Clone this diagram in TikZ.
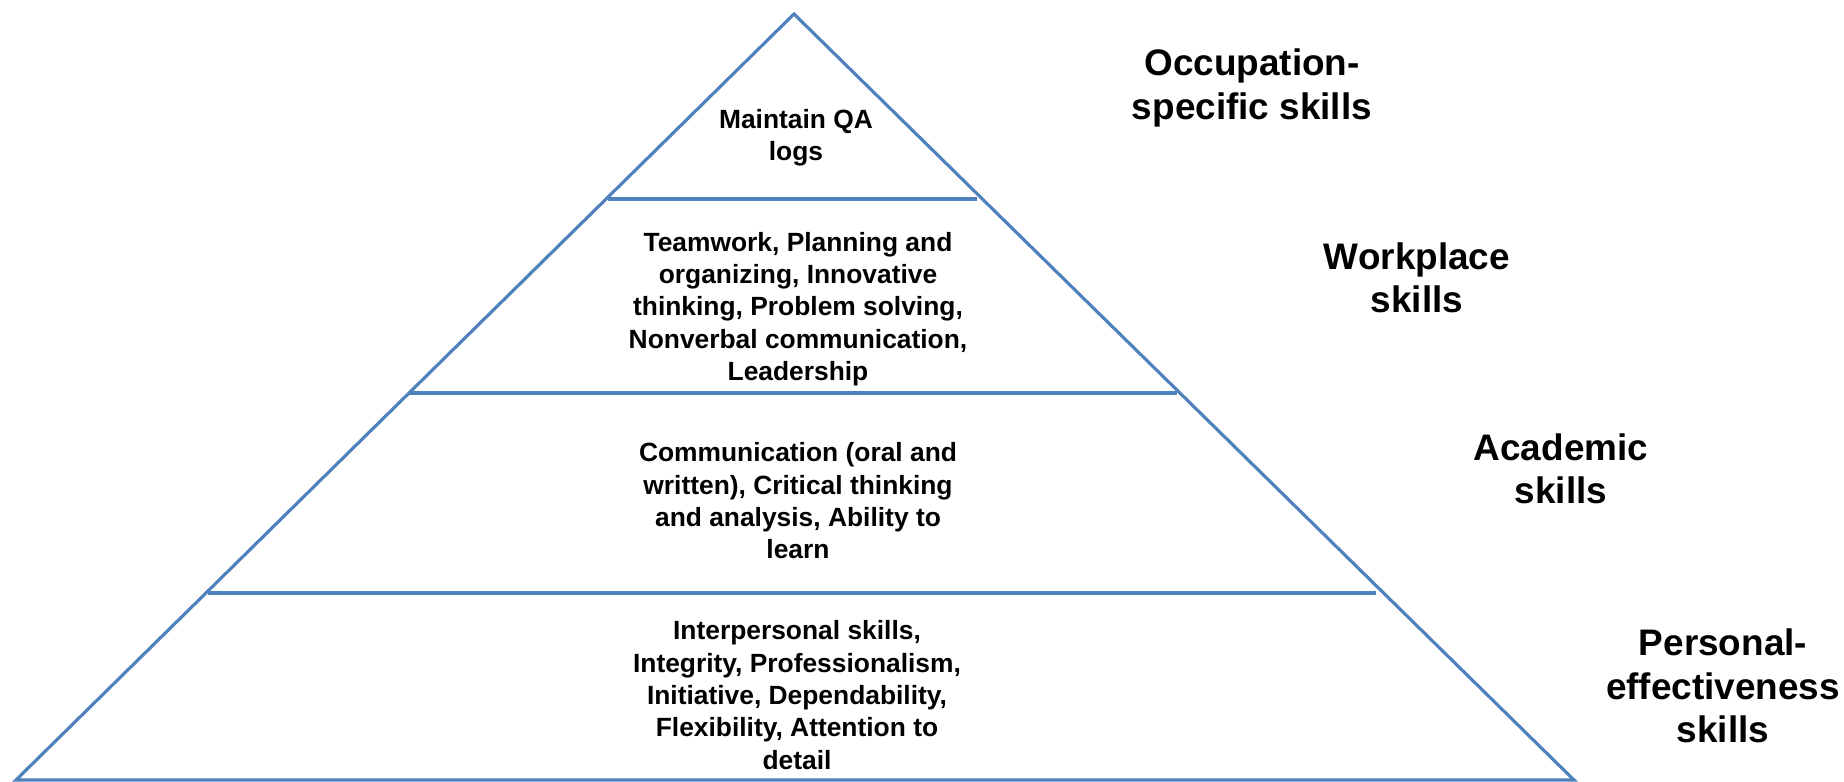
\documentclass[tikz,border=0pt]{standalone}
\usepackage{fontspec}
\setmainfont{Liberation Sans}
\definecolor{bordo}{HTML}{4F81BD}
\tikzset{
  livello/.style={align=center, font=\bfseries\fontsize{7.5}{9.2}\selectfont},
  etichetta/.style={align=center, font=\bfseries\fontsize{10.5}{12.3}\selectfont}
}
\begin{document}
\begin{tikzpicture}[x=0.01cm, y=-0.01cm]
\useasboundingbox (0,0) rectangle (1844,782);

% piramide
\coordinate (apice) at (794,14);
\coordinate (baseS) at (16,780);
\coordinate (baseD) at (1574,780);
\draw[bordo, line width=0.9pt, line join=miter] (baseS) -- (apice) -- (baseD) -- cycle;

% separazioni tra i livelli
\draw[bordo, line width=1.1pt] (608,199) -- (977,199);
\draw[bordo, line width=1.1pt] (409,393) -- (1177,393);
\draw[bordo, line width=1.1pt] (208,593) -- (1376,593);

% contenuto dei livelli
\node[livello] (occ) at (796,138) {Maintain QA\\logs};
\node[livello] (lav) at (798,309) {Teamwork, Planning and\\organizing, Innovative\\thinking, Problem solving,\\Nonverbal communication,\\Leadership};
\node[livello] (acc) at (798,501) {Communication (oral and\\written), Critical thinking\\and analysis, Ability to\\learn};
\node[livello] (pers) at (797,695) {Interpersonal skills,\\Integrity, Professionalism,\\Initiative, Dependability,\\Flexibility, Attention to\\detail};

% etichette a destra
\node[etichetta] (eocc) at (1252,88) {Occupation-\\specific skills};
\node[etichetta] (elav) at (1417,278) {Workplace\\skills};
\node[etichetta] (eacc) at (1561,469) {Academic\\skills};
\node[etichetta] (epers) at (1723,686) {Personal-\\effectiveness\\skills};

\end{tikzpicture}
\end{document}
